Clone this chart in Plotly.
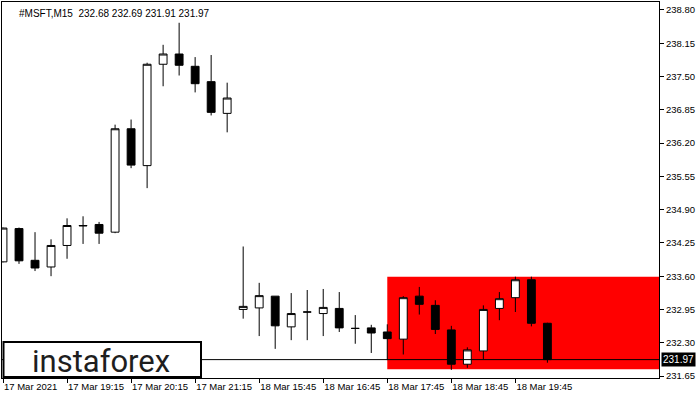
import plotly.graph_objects as go

# ---- data ----
opens  = [233.88, 234.53, 233.91, 233.78, 234.20, 234.58, 234.61, 234.46, 236.48, 235.76,
          237.74, 237.94, 237.70, 237.40, 236.78, 232.95, 232.98, 233.21, 232.61, 232.90,
          232.87, 232.97, 232.58, 232.59, 232.51, 232.37, 233.21, 233.03, 232.55, 231.88,
          232.14, 232.97, 233.18, 233.53, 232.68]
highs  = [234.55, 234.55, 234.46, 234.32, 234.73, 234.77, 234.66, 236.56, 236.66, 237.77,
          238.12, 238.55, 237.88, 237.92, 237.38, 234.18, 233.47, 233.21, 233.27, 233.33,
          233.35, 233.29, 232.84, 232.65, 232.66, 233.21, 233.39, 233.13, 232.63, 232.21,
          233.03, 233.29, 233.59, 233.59, 232.69]
lows   = [233.87, 233.84, 233.70, 233.60, 233.94, 234.23, 234.23, 234.44, 235.71, 235.32,
          237.31, 237.52, 237.19, 236.74, 236.41, 232.77, 232.43, 232.18, 232.35, 232.35,
          232.43, 232.51, 232.28, 232.10, 231.96, 232.07, 232.85, 232.47, 231.77, 231.81,
          231.98, 232.74, 232.90, 232.62, 231.91]
closes = [234.54, 233.90, 233.76, 234.20, 234.59, 234.59, 234.44, 236.48, 235.77, 237.74,
          237.94, 237.72, 237.36, 236.80, 237.08, 233.01, 233.22, 232.63, 232.87, 232.90,
          232.99, 232.59, 232.58, 232.49, 232.38, 233.18, 233.05, 232.56, 231.88, 232.16,
          232.95, 233.16, 233.53, 232.68, 231.97]

date_tick_idx = [0, 4, 8, 12, 16, 20, 24, 28, 32]
date_tick_text = ["17 Mar 2021", "17 Mar 19:15", "17 Mar 20:15", "17 Mar 21:15",
                  "18 Mar 15:45", "18 Mar 16:45", "18 Mar 17:45", "18 Mar 18:45", "18 Mar 19:45"]
price_ticks = [238.80, 238.15, 237.50, 236.85, 236.20, 235.55, 234.90, 234.25,
               233.60, 232.95, 232.30, 231.65]

symbol_title = "#MSFT,M15  232.68 232.69 231.91 231.97"
last_price = 231.97
zone_start_idx = 24
zone_top = 233.59
zone_bottom = 231.78
x_range = [-0.0625, 40.97]
y_range = [231.611, 238.956]

xs = list(range(len(opens)))

# ---- layout constants (pixels) ----
W, H = 700, 400
ML, MR, MT, MB = 2, 41, 2, 22
PW, PH = W - ML - MR, H - MT - MB

def px_x(px):
    return (px - ML) / PW

def px_y(py):
    return (H - MB - py) / PH

FONT = "Liberation Sans"

fig = go.Figure()
fig.add_trace(go.Candlestick(
    x=xs, open=opens, high=highs, low=lows, close=closes,
    increasing=dict(line=dict(color="black", width=1), fillcolor="white"),
    decreasing=dict(line=dict(color="black", width=1), fillcolor="black"),
    whiskerwidth=0, hoverinfo="skip", showlegend=False,
))

shapes = [
    dict(type="rect", xref="x", yref="y", x0=zone_start_idx, x1=x_range[1],
         y0=zone_bottom, y1=zone_top, fillcolor="#ff0000", line=dict(width=0), layer="below"),
    dict(type="line", xref="paper", yref="y", x0=0, x1=1, y0=last_price, y1=last_price,
         line=dict(color="black", width=1), layer="above"),
    dict(type="rect", xref="paper", yref="paper", x0=px_x(3.5), x1=px_x(201),
         y0=px_y(377), y1=px_y(342), fillcolor="white",
         line=dict(color="black", width=2), layer="above"),
]

annotations = [
    dict(text=symbol_title, xref="paper", yref="paper", x=px_x(16.5), y=px_y(13.3),
         xanchor="left", yanchor="middle", showarrow=False,
         font=dict(family=FONT, size=10, color="#000000")),
    dict(text="instaforex", xref="paper", yref="paper", x=px_x(101), y=px_y(361),
         xanchor="center", yanchor="middle", showarrow=False,
         font=dict(family="Roboto", size=31, color="#1e1e1e")),
    dict(text=f"{last_price:.2f}", xref="paper", yref="y", x=1, y=last_price,
         xanchor="left", yanchor="middle", xshift=2, showarrow=False,
         bgcolor="black", borderpad=1,
         font=dict(family=FONT, size=10, color="white")),
]

fig.update_layout(
    width=W, height=H,
    margin=dict(l=ML, r=MR, t=MT, b=MB, autoexpand=False),
    paper_bgcolor="white", plot_bgcolor="white",
    shapes=shapes, annotations=annotations,
    boxgap=0.3,
    xaxis=dict(range=x_range, tickvals=date_tick_idx, ticktext=date_tick_text,
               ticks="outside", ticklen=4, tickcolor="black", tickwidth=1,
               ticklabelposition="outside right", tickangle=0, automargin=False,
               showline=True, linecolor="black", linewidth=1, mirror=True,
               showgrid=False, zeroline=False, rangeslider=dict(visible=False),
               tickfont=dict(family=FONT, size=9.5, color="black")),
    yaxis=dict(range=y_range, side="right", tickvals=price_ticks,
               ticktext=[f"{v:.2f}" for v in price_ticks], automargin=False,
               ticks="outside", ticklen=4, tickcolor="black", tickwidth=1,
               showline=True, linecolor="black", linewidth=1, mirror=True,
               showgrid=False, zeroline=False,
               tickfont=dict(family=FONT, size=9.5, color="black")),
)

fig.write_html("out.html", config={"displayModeBar": False},
               post_script="document.body.style.margin='0';document.body.style.overflow='hidden';")
